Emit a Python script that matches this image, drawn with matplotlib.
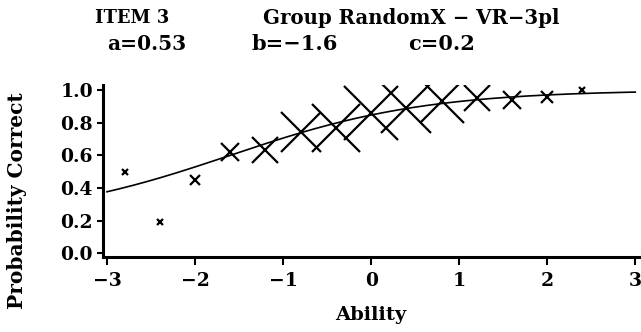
import numpy as np
import matplotlib
matplotlib.use("Agg")
import matplotlib.pyplot as plt

# item parameters (3PL, D = 1.7)
a_par = 0.53
b_par = -1.6
c_par = 0.2

# observed proportion correct per ability group
ability = [-2.8, -2.4, -2.0, -1.6, -1.2, -0.8, -0.4, 0.0, 0.4, 0.8, 1.2, 1.6, 2.0, 2.4]
p_obs = [0.50, 0.19, 0.45, 0.62, 0.63, 0.74, 0.77, 0.86, 0.89, 0.93, 0.95, 0.94, 0.96, 1.00]
# cross size grows with group size
cross_ms = [4.5, 4.5, 7, 13, 19, 29, 34, 39, 36, 32, 19, 13, 9, 4.5]

plt.rcParams["font.family"] = ["DejaVu Serif"]
plt.rcParams["font.weight"] = "bold"

fig = plt.figure(figsize=(6.41, 3.32), dpi=100)
ax = fig.add_axes([0.160, 0.227, 0.838, 0.517])

theta = np.linspace(-3, 3, 300)
icc = c_par + (1 - c_par) / (1 + np.exp(-1.7 * a_par * (theta - b_par)))
ax.plot(theta, icc, color="black", lw=1.2)

for x, y, s in zip(ability, p_obs, cross_ms):
    ax.plot(x, y, marker="x", ms=s, mew=1.6, color="black", linestyle="none")

ax.set_xlim(-3.05, 3.05)
ax.set_ylim(-0.021, 1.031)
ax.set_xticks([-3, -2, -1, 0, 1, 2, 3])
ax.set_yticks([0.0, 0.2, 0.4, 0.6, 0.8, 1.0])
ax.set_yticklabels(["0.0", "0.2", "0.4", "0.6", "0.8", "1.0"])
ax.set_xticklabels(["\u22123", "\u22122", "\u22121", "0", "1", "2", "3"])
ax.tick_params(axis="x", length=6, width=1.5, labelsize=13.5, pad=5)
ax.tick_params(axis="y", length=4, width=1.5, labelsize=13.5, pad=3)
for side in ("top", "right"):
    ax.spines[side].set_visible(False)
for side in ("left", "bottom"):
    ax.spines[side].set_linewidth(2.2)

ax.set_xlabel("Ability", fontsize=14, fontweight="bold")
ax.xaxis.set_label_coords(0.5, -0.29)
ax.set_ylabel("Probability Correct", fontsize=14.5, fontweight="bold")
ax.yaxis.set_label_coords(-0.14, 0.324)

fig.text(95 / 641, 0.946, "ITEM 3", fontsize=13, fontweight="bold", va="center")
fig.text(263 / 641, 0.946, "Group RandomX \u2212 VR\u22123pl", fontsize=14.2, fontweight="bold", va="center")
fig.text(107 / 641, 0.867, f"a={a_par}", fontsize=14.5, fontweight="bold", va="center")
fig.text(252 / 641, 0.867, f"b=\u2212{abs(b_par)}", fontsize=15, fontweight="bold", va="center")
fig.text(408 / 641, 0.867, f"c={c_par}", fontsize=15, fontweight="bold", va="center")

fig.savefig("out.png", dpi=100)
